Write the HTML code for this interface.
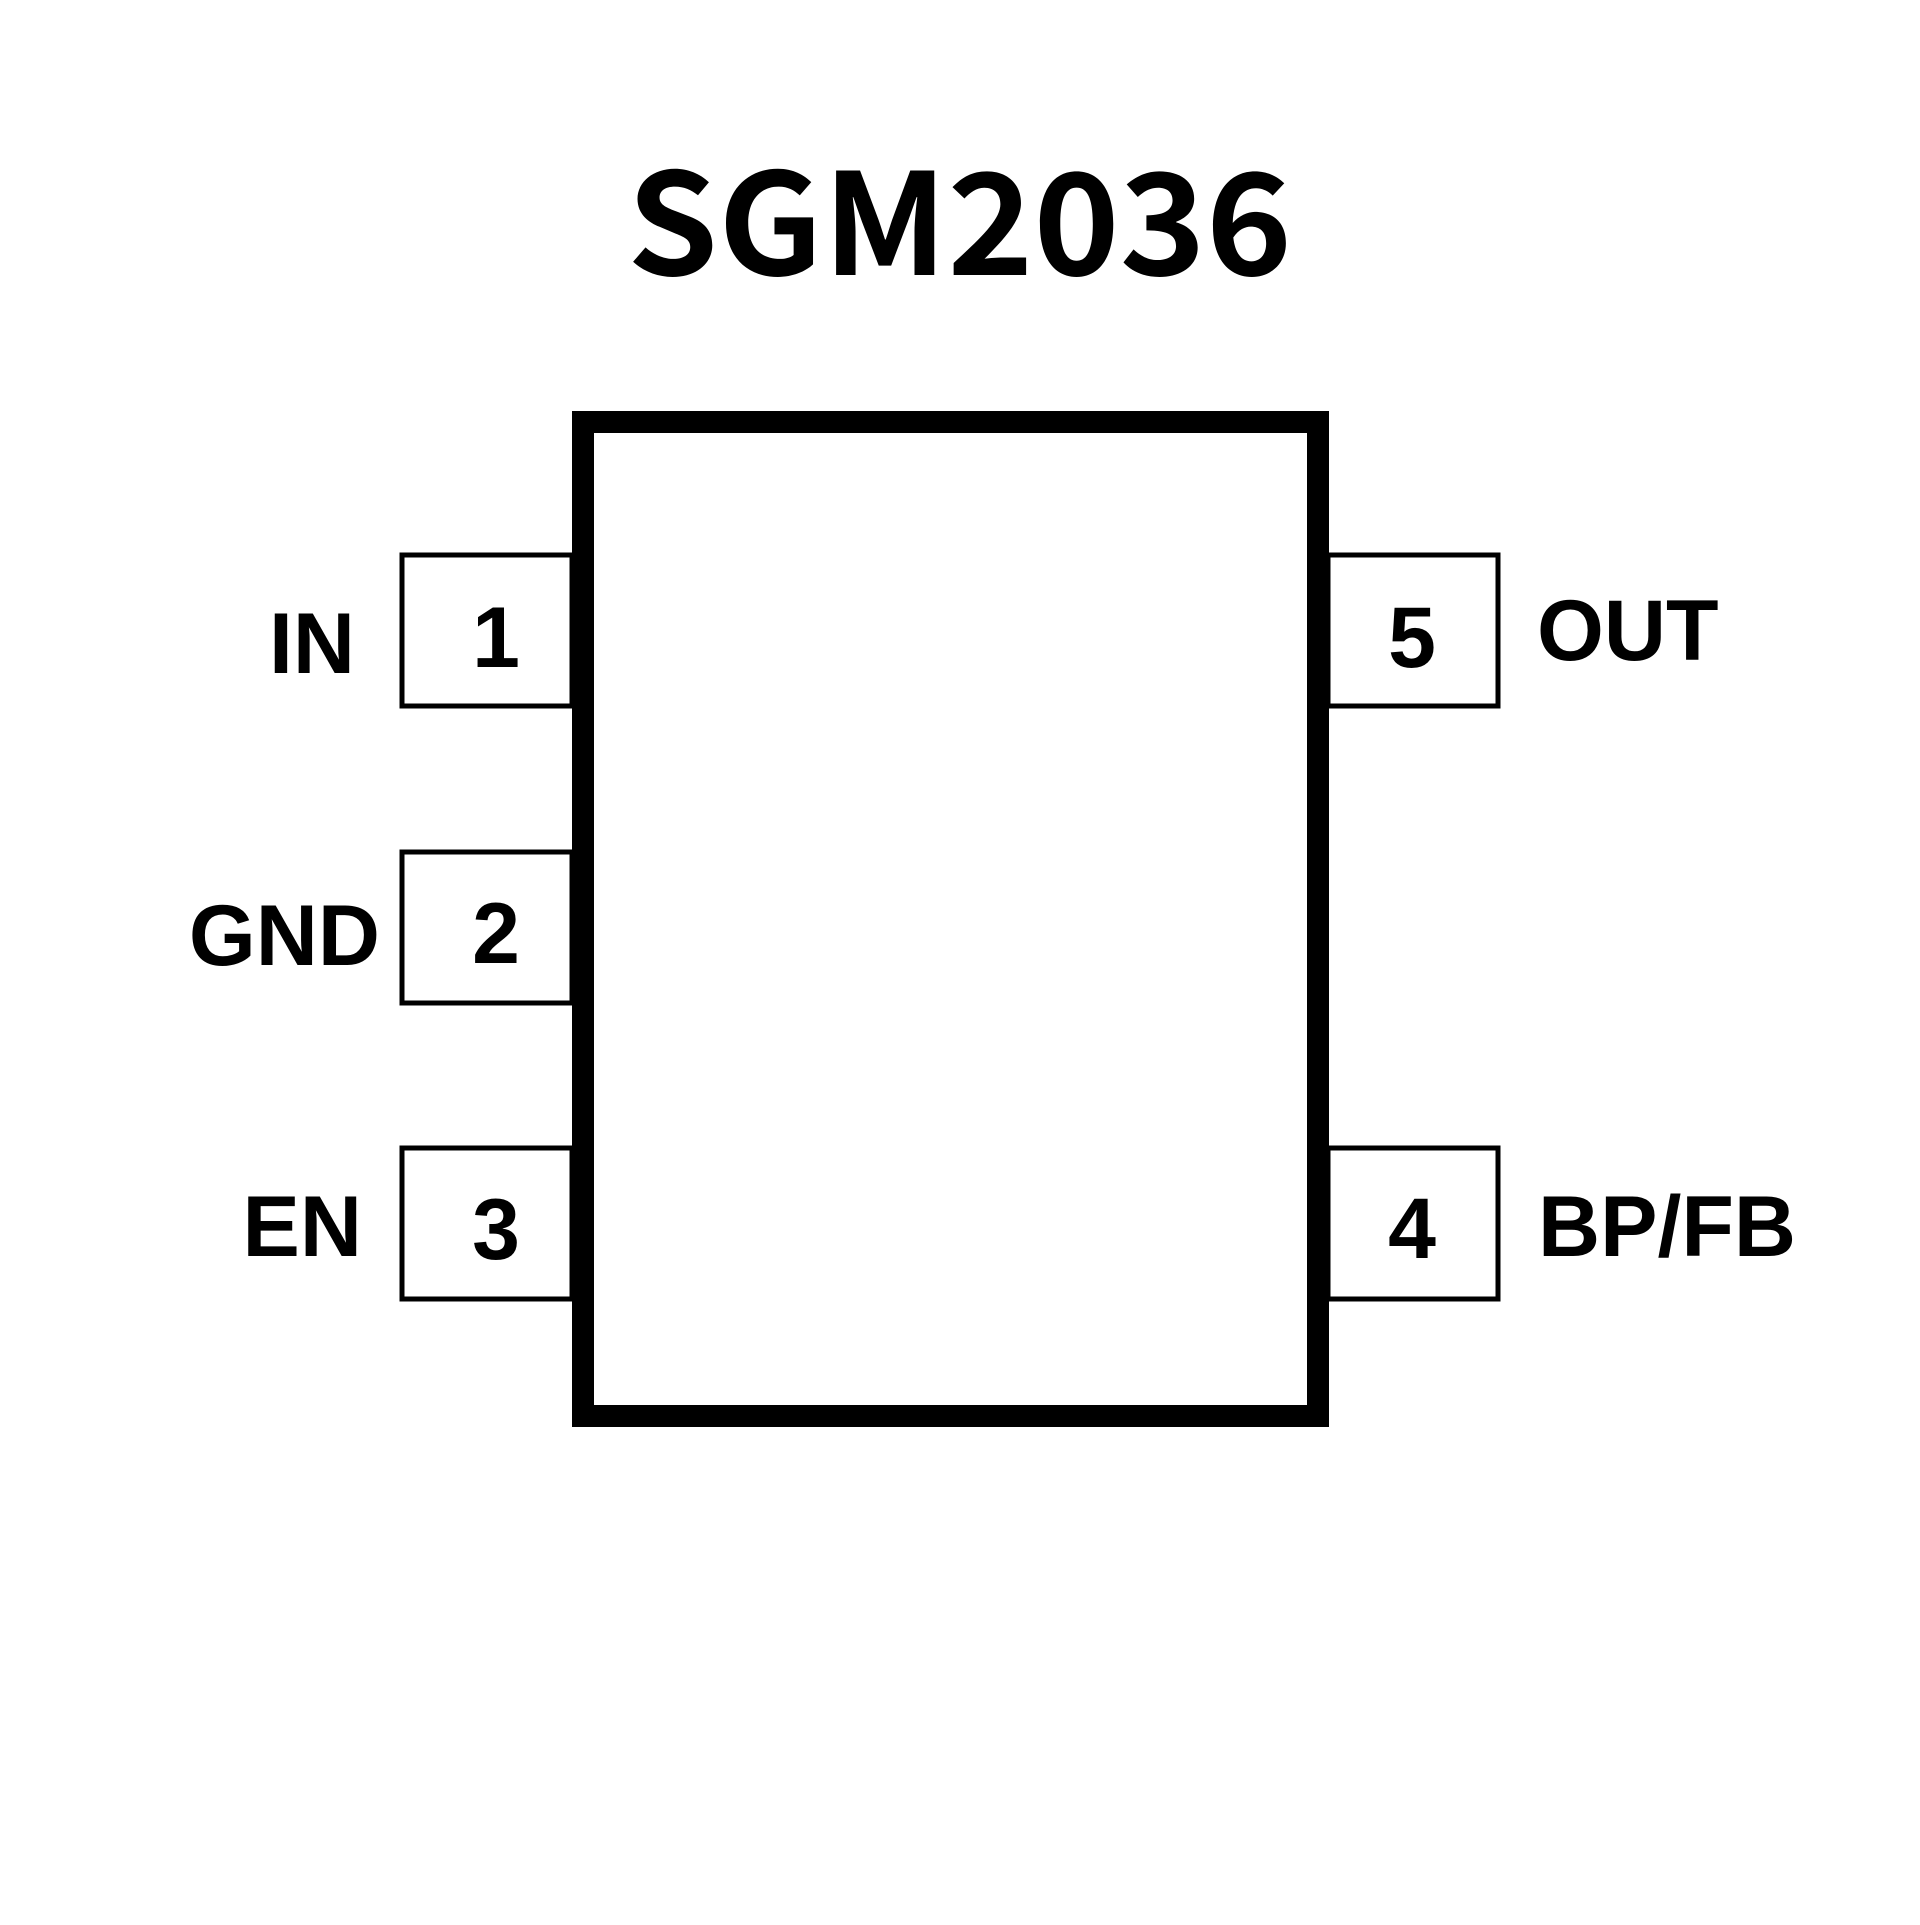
<!DOCTYPE html>
<html><head><meta charset="utf-8"><style>
html,body{margin:0;padding:0;background:#fff;}
</style></head><body>
<svg width="1920" height="1920" viewBox="0 0 1920 1920" xmlns="http://www.w3.org/2000/svg">
<rect width="1920" height="1920" fill="#fff"/>
<text x="627" y="275" font-family="Noto Sans CJK SC, Liberation Sans, sans-serif" font-weight="bold" font-size="141" textLength="665" lengthAdjust="spacingAndGlyphs">SGM2036</text>
<g fill="none" stroke="#000" stroke-width="5">
<rect x="402" y="555" width="170" height="151"/>
<rect x="402" y="852" width="170" height="151"/>
<rect x="402" y="1148" width="170" height="151"/>
<rect x="1328" y="555" width="170" height="151"/>
<rect x="1328" y="1148" width="170" height="151"/>
</g>
<rect x="583" y="422" width="735" height="994" fill="#fff" stroke="#000" stroke-width="22"/>
<g font-family="Liberation Sans, sans-serif" font-weight="bold" font-size="86">
<text x="355" y="673" text-anchor="end">IN</text>
<text x="380" y="965" text-anchor="end">GND</text>
<text x="362" y="1256" text-anchor="end">EN</text>
<text x="1537" y="660">OUT</text>
<text x="1538" y="1256">BP/FB</text>
<text x="496" y="667" text-anchor="middle">1</text>
<text x="496" y="963" text-anchor="middle">2</text>
<text x="496" y="1259" text-anchor="middle">3</text>
<text x="1412" y="667" text-anchor="middle">5</text>
<text x="1412" y="1258" text-anchor="middle">4</text>
</g>
</svg>
</body></html>
